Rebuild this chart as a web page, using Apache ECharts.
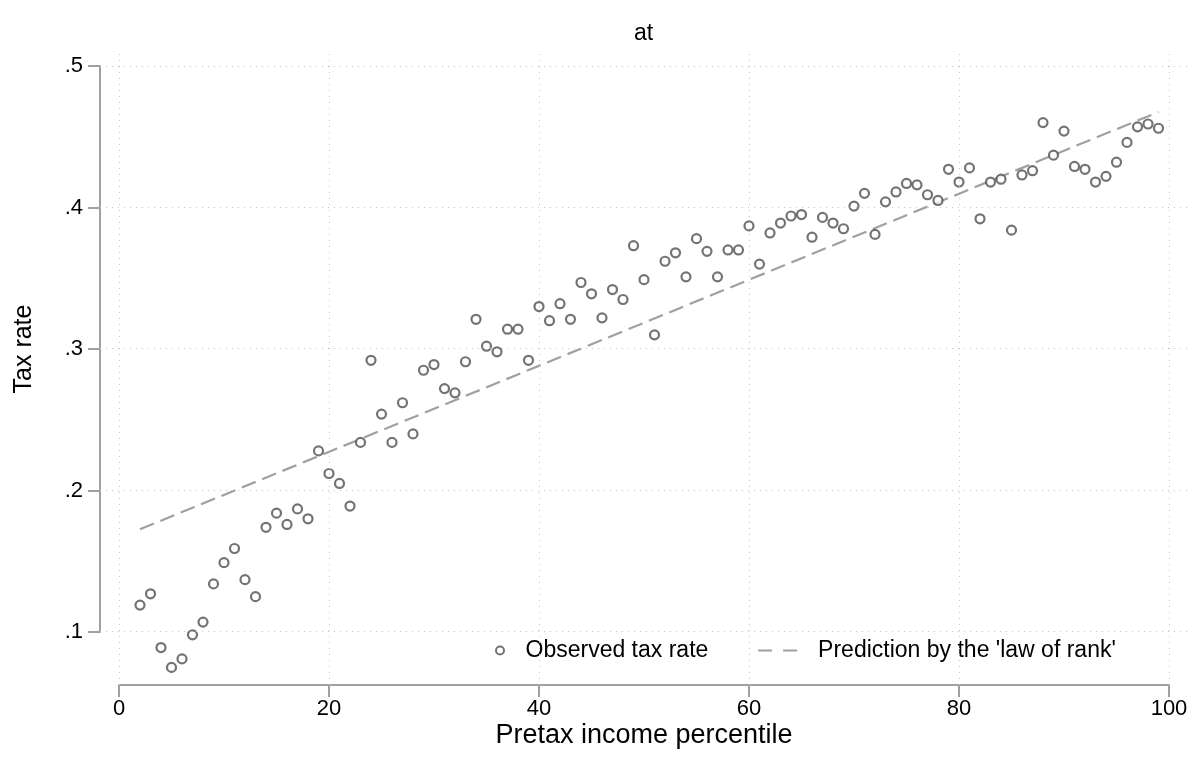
<!DOCTYPE html>
<html>
<head>
<meta charset="utf-8">
<script src="https://cdn.jsdelivr.net/npm/echarts@6/dist/echarts.min.js"></script>
<style>html,body{margin:0;padding:0;background:#fff}#c{width:1193px;height:766px}</style>
</head>
<body>
<div id="c"></div>
<script>
const percentiles = [2,3,4,5,6,7,8,9,10,11,12,13,14,15,16,17,18,19,20,21,22,23,24,25,26,27,28,29,30,31,32,33,34,35,36,37,38,39,40,41,42,43,44,45,46,47,48,49,50,51,52,53,54,55,56,57,58,59,60,61,62,63,64,65,66,67,68,69,70,71,72,73,74,75,76,77,78,79,80,81,82,83,84,85,86,87,88,89,90,91,92,93,94,95,96,97,98,99];
const observedRate = [.119,.127,.089,.075,.081,.098,.107,.134,.149,.159,.137,.125,.174,.184,.176,.187,.180,.228,.212,.205,.189,.234,.292,.254,.234,.262,.240,.285,.289,.272,.269,.291,.321,.302,.298,.314,.314,.292,.330,.320,.332,.321,.347,.339,.322,.342,.335,.373,.349,.310,.362,.368,.351,.378,.369,.351,.370,.370,.387,.360,.382,.389,.394,.395,.379,.393,.389,.385,.401,.410,.381,.404,.411,.417,.416,.409,.405,.427,.418,.428,.392,.418,.420,.384,.423,.426,.460,.437,.454,.429,.427,.418,.422,.432,.446,.457,.459,.456];
const predictionX = [2, 99];
const predictionY = [0.1726, 0.4675];
const xTicks = [0, 20, 40, 60, 80, 100];
const yTicks = [0.1, 0.2, 0.3, 0.4, 0.5];
const obsName = 'Observed tax rate';
const predName = "Prediction by the 'law of rank'";

const FONT = "'Liberation Sans', Arial, Helvetica, sans-serif";
const AXIS_COLOR = '#a0a0a0';
const GRID_COLOR = '#c4c4c4';
const MARK_COLOR = '#505050';

const chart = echarts.init(document.getElementById('c'), null, {renderer: 'canvas'});
const obsData = percentiles.map((p, i) => [p, observedRate[i]]);
const predData = predictionX.map((p, i) => [p, predictionY[i]]);

const gridMarks = xTicks.map(v => ({xAxis: v})).concat(yTicks.map(v => ({yAxis: v})));
const noSym = {color: 'rgba(0,0,0,0)', borderColor: 'rgba(0,0,0,0)', borderWidth: 0};

chart.setOption({
  animation: false,
  backgroundColor: '#fff',
  textStyle: {fontFamily: FONT},
  title: {
    text: 'at', left: 634, top: 22, padding: 0,
    textStyle: {fontSize: 23, fontWeight: 'normal', color: '#000', fontFamily: FONT}
  },
  legend: [{
    data: [obsName], left: 495, top: 639, padding: 0,
    itemWidth: 41, itemHeight: 8,
    textStyle: {fontSize: 23, color: '#000', fontFamily: FONT}
  }, {
    data: [predName], left: 757, top: 639, padding: 0,
    itemWidth: 55, itemHeight: 8,
    itemStyle: noSym,
    lineStyle: {type: [14, 11, 14, 30], width: 2.2, color: AXIS_COLOR},
    textStyle: {fontSize: 23, color: '#000', fontFamily: FONT}
  }],
  grid: [
    {left: 119, right: 24, top: 66, bottom: 134},
    {left: 100, right: 3, top: 53, bottom: 81}
  ],
  xAxis: [{
    type: 'value', gridIndex: 0, min: 0, max: 100, interval: 20, offset: 53,
    axisLine: {show: true, onZero: false, lineStyle: {color: AXIS_COLOR, width: 2}},
    axisTick: {show: true, length: 12, lineStyle: {color: AXIS_COLOR, width: 2}},
    axisLabel: {fontSize: 22, color: '#000', margin: 13, fontFamily: FONT},
    splitLine: {show: false},
    name: 'Pretax income percentile', nameLocation: 'middle', nameGap: 37,
    nameMoveOverlap: false,
    nameTextStyle: {fontSize: 27, color: '#000', fontFamily: FONT}
  }, {
    type: 'value', gridIndex: 1, min: -1.8095, max: 102, show: false,
    splitLine: {show: false}
  }],
  yAxis: [{
    type: 'value', gridIndex: 0, min: 0.1, max: 0.5, interval: 0.1, offset: 19,
    axisLine: {show: true, onZero: false, lineStyle: {color: AXIS_COLOR, width: 2}},
    axisTick: {show: true, length: 12, lineStyle: {color: AXIS_COLOR, width: 2}},
    axisLabel: {fontSize: 22, color: '#000', margin: 17, fontFamily: FONT,
      formatter: v => v.toFixed(1).replace(/^0/, '')},
    splitLine: {show: false},
    name: 'Tax rate', nameLocation: 'middle', nameGap: 63, nameRotate: 90,
    nameMoveOverlap: false,
    nameTextStyle: {fontSize: 25, color: '#000', fontFamily: FONT}
  }, {
    type: 'value', gridIndex: 1, min: 0.061837, max: 0.5092, show: false,
    splitLine: {show: false}
  }],
  series: [{
    type: 'line', xAxisIndex: 1, yAxisIndex: 1, data: [], silent: true,
    markLine: {
      silent: true, symbol: ['none', 'none'], animation: false,
      label: {show: false},
      lineStyle: {color: GRID_COLOR, type: [1, 5], width: 1},
      emphasis: {disabled: true},
      data: gridMarks
    }
  }, {
    name: predName, type: 'line', xAxisIndex: 0, yAxisIndex: 0,
    data: predData, symbol: 'none', z: 3,
    itemStyle: {color: AXIS_COLOR},
    lineStyle: {color: AXIS_COLOR, width: 2.2, type: [15, 7]}
  }, {
    name: obsName, type: 'scatter', xAxisIndex: 0, yAxisIndex: 0,
    data: obsData, clip: false, symbol: 'circle', symbolSize: 9, z: 4,
    itemStyle: {color: '#fff', borderColor: MARK_COLOR, borderWidth: 2.2}
  }]
});
</script>
</body>
</html>
